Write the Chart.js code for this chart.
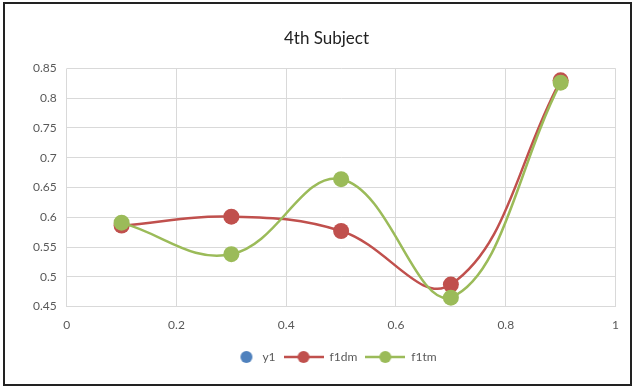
<!DOCTYPE html>
<html>
<head>
<meta charset="utf-8">
<script src="https://cdn.jsdelivr.net/npm/chart.js@4"></script>
<style>
  html, body { margin: 0; padding: 0; background: #fff; }
  #frame {
    position: absolute; left: 3px; top: 2px;
    width: 625px; height: 380px;
    border: 2px solid #222;
    background: #fff;
  }
  #frame canvas { display: block; }
</style>
</head>
<body>
<div id="frame"><canvas id="chart" width="625" height="380"></canvas></div>
<script>
const x_values = [0.1, 0.3, 0.5, 0.7, 0.9];
const y1_values = [];
const f1dm_values = [0.586, 0.601, 0.577, 0.487, 0.830];
const f1tm_values = [0.591, 0.538, 0.664, 0.465, 0.826];
const series_names = ['y1', 'f1dm', 'f1tm'];
const x_ticks = [0, 0.2, 0.4, 0.6, 0.8, 1];
const y_ticks = [0.45, 0.5, 0.55, 0.6, 0.65, 0.7, 0.75, 0.8, 0.85];

const colors = ['#4F81BD', '#C0504D', '#9BBB59'];
const font_family = 'Lato, "Open Sans", sans-serif';

function toPoints(values) {
  return values.map((v, i) => ({ x: x_values[i], y: v }));
}

// legend symbol: line with a dot, like Excel (marker-only series: dot on the right)
function legendIcon(color, withLine) {
  const c = document.createElement('canvas');
  c.width = 40;
  c.height = 14;
  const g = c.getContext('2d');
  if (withLine) {
    g.strokeStyle = color;
    g.lineWidth = 2.5;
    g.beginPath();
    g.moveTo(0, 7);
    g.lineTo(40, 7);
    g.stroke();
  }
  g.fillStyle = color;
  g.beginPath();
  g.arc(withLine ? 20 : 30, 7, 6, 0, Math.PI * 2);
  g.fill();
  return c;
}

const all_data = [y1_values, f1dm_values, f1tm_values];
const datasets = all_data.map((vals, i) => ({
  label: series_names[i],
  data: toPoints(vals),
  order: 3 - i, // later series painted on top, as in Excel
  borderColor: colors[i],
  backgroundColor: colors[i],
  showLine: i > 0,
  borderWidth: 2.5,
  tension: 0.4,
  pointRadius: 8,
  pointHoverRadius: 8,
  pointBorderWidth: 0,
  legendIcon: legendIcon(colors[i], i > 0)
}));

const ctx = document.getElementById('chart');
new Chart(ctx, {
  type: 'scatter',
  data: { datasets: datasets },
  options: {
    responsive: false,
    animation: false,
    layout: { padding: { top: 20, right: 0, left: 18, bottom: 11 } },
    scales: {
      x: {
        type: 'linear',
        min: 0,
        max: 1,
        afterBuildTicks: axis => { axis.ticks = x_ticks.map(v => ({ value: v })); },
        grid: { color: '#d9d9d9', drawTicks: false },
        border: { color: '#d9d9d9' },
        ticks: {
          color: '#595959',
          padding: 11,
          font: { family: font_family, size: 12 },
          callback: v => String(v)
        }
      },
      y: {
        type: 'linear',
        min: 0.45,
        max: 0.85,
        afterBuildTicks: axis => { axis.ticks = y_ticks.map(v => ({ value: v })); },
        grid: { color: '#d9d9d9', drawTicks: false },
        border: { display: false },
        ticks: {
          color: '#595959',
          padding: 10,
          font: { family: font_family, size: 12 },
          callback: v => String(Math.round(v * 100) / 100)
        }
      }
    },
    plugins: {
      title: {
        display: true,
        text: '4th Subject',
        color: '#222',
        font: { family: font_family, size: 17, weight: 'normal' },
        padding: { top: 4, bottom: 20 }
      },
      legend: {
        position: 'bottom',
        labels: {
          color: '#595959',
          font: { family: font_family, size: 12 },
          usePointStyle: true,
          pointStyleWidth: 40,
          padding: 8,
          generateLabels: chart => chart.data.datasets.map((ds, i) => ({
            text: ds.label,
            pointStyle: ds.legendIcon,
            fillStyle: ds.backgroundColor,
            strokeStyle: ds.borderColor,
            fontColor: '#595959',
            datasetIndex: i,
            hidden: false
          }))
        }
      },
      tooltip: { enabled: false }
    }
  }
});
</script>
</body>
</html>
